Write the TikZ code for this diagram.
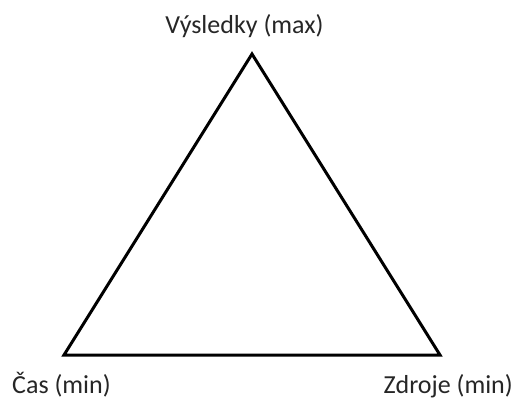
\documentclass[tikz,border=0pt]{standalone}
\usepackage{fontspec}
\setmainfont{Carlito}
\begin{document}
\begin{tikzpicture}[x=1pt,y=-1pt,every node/.style={font=\fontsize{26}{30}\selectfont,text=black!85,inner sep=0pt},
  edge/.style={line width=3pt,black}]
\useasboundingbox (0,0) rectangle (518,399);
% corners
\coordinate (top) at (252,54);
\coordinate (left) at (64,355);
\coordinate (right) at (440,355);
\draw[edge] (top) -- (right) -- (left) -- cycle;
% labels
\node[anchor=base] (vysledky) at (244.5,33) {Výsledky (max)};
\node[anchor=base west] (cas) at (12,393) {Čas (min)};
\node[anchor=base east] (zdroje) at (513,393) {Zdroje (min)};
\end{tikzpicture}
\end{document}
